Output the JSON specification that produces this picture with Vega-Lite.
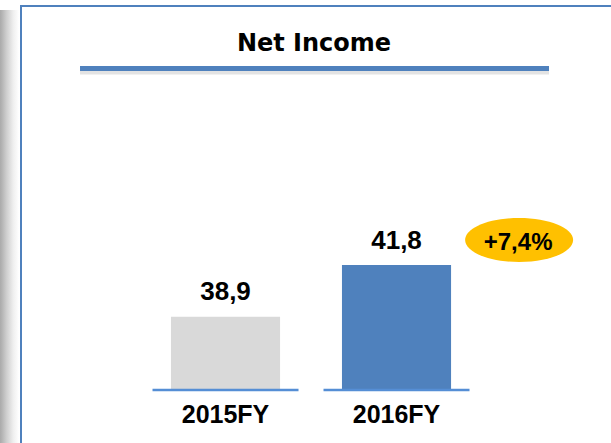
{
  "$schema": "https://vega.github.io/schema/vega-lite/v6.json",
  "width": 592,
  "height": 445,
  "autosize": {"type": "none"},
  "padding": {"left": 21, "top": 6, "right": 0, "bottom": 0},
  "background": "white",
  "config": {
    "view": {"stroke": "#4f81bd", "strokeWidth": 2, "fill": "white"}
  },
  "title": {
    "text": "Net Income",
    "font": "DejaVu Sans",
    "fontSize": 24,
    "fontWeight": "bold",
    "color": "black",
    "anchor": "middle",
    "frame": "group",
    "offset": -44.7,
    "baseline": "alphabetic",
    "dx": -3,
    "dy": 24
  },
  "datasets": {
    "income": [
      {"period": "2015FY", "value": 38.9},
      {"period": "2016FY", "value": 41.8}
    ],
    "growth": [
      {"period": "2016FY", "value": 41.8, "change": "+7,4%"}
    ],
    "deco": [{"line": "underline"}]
  },
  "layer": [
    {
      "data": {"name": "income"},
      "mark": {"type": "bar"},
      "encoding": {
        "x": {"field": "period", "type": "nominal", "scale": {"domain": ["2015FY", "2016FY"], "paddingInner": 0.362, "paddingOuter": 0.912, "align": 0.4808}, "axis": null},
        "y": {"field": "value", "type": "quantitative", "scale": {"domain": [31.369, 56.327], "nice": false, "zero": false}, "axis": null},
        "y2": {"datum": 34.79},
        "color": {"field": "period", "type": "nominal", "scale": {"domain": ["2015FY", "2016FY"], "range": ["#d9d9d9", "#4f81bd"]}, "legend": null}
      }
    },
    {
      "data": {"name": "deco"},
      "mark": {"type": "tick", "orient": "vertical", "size": 440, "thickness": 19, "xOffset": -216, "opacity": 1,
        "fill": {"gradient": "linear", "x1": 0, "y1": 0, "x2": 1, "y2": 0, "stops": [
          {"offset": 0, "color": "#a9a9a9"},
          {"offset": 0.35, "color": "#cfcfcf"},
          {"offset": 0.7, "color": "#efefef"},
          {"offset": 1, "color": "#ffffff"}
        ]}},
      "encoding": {
        "x": {"datum": "2015FY", "type": "nominal"},
        "y": {"datum": 43.76, "type": "quantitative"}
      }
    },
    {
      "data": {"name": "deco"},
      "mark": {"type": "tick", "orient": "horizontal", "size": 469, "thickness": 5, "color": "#9a9a9a", "opacity": 0.28, "xOffset": 89, "yOffset": 3.5},
      "encoding": {
        "x": {"datum": "2015FY", "type": "nominal"},
        "y": {"datum": 52.82, "type": "quantitative"}
      }
    },
    {
      "data": {"name": "deco"},
      "mark": {"type": "tick", "orient": "horizontal", "size": 469, "thickness": 5, "color": "#4f81bd", "opacity": 1, "xOffset": 89},
      "encoding": {
        "x": {"datum": "2015FY", "type": "nominal"},
        "y": {"datum": 52.82, "type": "quantitative"}
      }
    },
    {
      "data": {"name": "income"},
      "mark": {"type": "tick", "orient": "horizontal", "size": 146, "thickness": 2.6, "color": "#558ed5", "opacity": 1},
      "encoding": {
        "x": {"field": "period", "type": "nominal"},
        "y": {"datum": 34.79, "type": "quantitative"}
      }
    },
    {
      "data": {"name": "income"},
      "transform": [{"calculate": "replace(format(datum.value, '.1f'), '.', ',')", "as": "label"}],
      "mark": {"type": "text", "font": "Liberation Sans", "fontSize": 26, "fontWeight": "bold", "color": "black", "baseline": "alphabetic", "dy": -16.5},
      "encoding": {
        "x": {"field": "period", "type": "nominal"},
        "y": {"field": "value", "type": "quantitative"},
        "text": {"field": "label", "type": "nominal"}
      }
    },
    {
      "data": {"name": "income"},
      "mark": {"type": "text", "font": "Liberation Sans", "fontSize": 25, "fontWeight": "bold", "color": "black", "baseline": "alphabetic", "dy": 32.5},
      "encoding": {
        "x": {"field": "period", "type": "nominal"},
        "y": {"datum": 34.79, "type": "quantitative"},
        "text": {"field": "period", "type": "nominal"}
      }
    },
    {
      "data": {"name": "growth"},
      "mark": {"type": "point", "shape": "M -1 0 A 1 0.407 0 1 1 1 0 A 1 0.407 0 1 1 -1 0 Z", "size": 11664, "filled": true, "color": "#ffc000", "opacity": 1, "strokeWidth": 0, "xOffset": 122.6, "yOffset": -25},
      "encoding": {
        "x": {"field": "period", "type": "nominal"},
        "y": {"field": "value", "type": "quantitative"}
      }
    },
    {
      "data": {"name": "growth"},
      "mark": {"type": "text", "font": "Liberation Sans", "fontSize": 24, "fontWeight": "bold", "color": "black", "baseline": "alphabetic", "dx": 121.6, "dy": -15.5},
      "encoding": {
        "x": {"field": "period", "type": "nominal"},
        "y": {"field": "value", "type": "quantitative"},
        "text": {"field": "change", "type": "nominal"}
      }
    }
  ]
}
